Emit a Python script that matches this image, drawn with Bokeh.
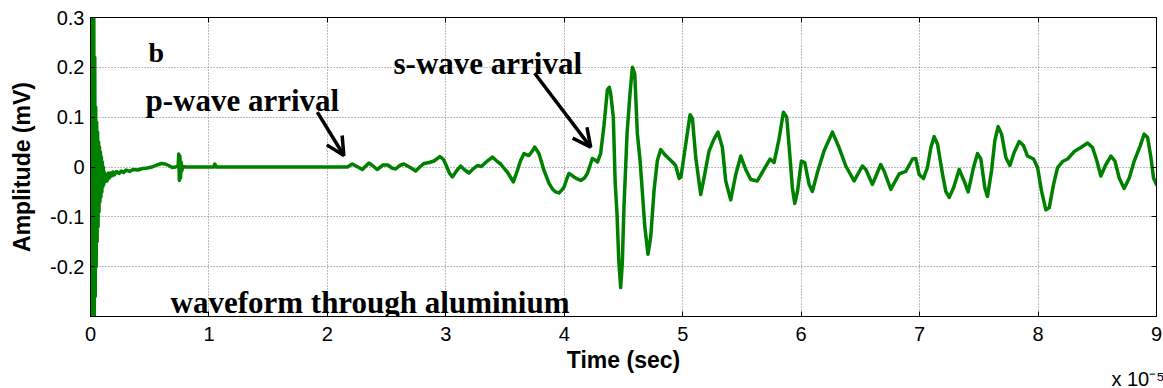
from bokeh.plotting import figure
from bokeh.models import Range1d, FixedTicker, LinearAxis, Label, Arrow, OpenHead, Title
from bokeh.embed import file_html
from bokeh.resources import INLINE

# time in units of 1e-5 s, amplitude in mV
time = [
    0.000, 0.004, 0.008, 0.012, 0.016, 0.020, 0.024, 0.028, 0.032, 0.036,
    0.040, 0.044, 0.048, 0.052, 0.056, 0.060, 0.064, 0.068, 0.072, 0.076,
    0.080, 0.084, 0.088, 0.092, 0.096, 0.100, 0.104, 0.108, 0.112, 0.116,
    0.120, 0.13, 0.14, 0.15, 0.16, 0.17, 0.18, 0.19, 0.20, 0.22,
    0.24, 0.26, 0.28, 0.30, 0.33, 0.36, 0.40, 0.44, 0.48, 0.52,
    0.56, 0.60, 0.63, 0.66, 0.69, 0.72, 0.74, 0.745, 0.75, 0.755,
    0.76, 0.765, 0.77, 0.78, 0.80, 1.04, 1.05, 1.06, 2.17, 2.21,
    2.25, 2.295, 2.35, 2.38, 2.42, 2.47, 2.51, 2.545, 2.576, 2.61,
    2.646, 2.70, 2.745, 2.78, 2.815, 2.86, 2.90, 2.95, 2.98, 3.00,
    3.03, 3.055, 3.09, 3.125, 3.16, 3.195, 3.23, 3.266, 3.30, 3.35,
    3.393, 3.43, 3.463, 3.50, 3.519, 3.55, 3.57, 3.604, 3.63, 3.66,
    3.70, 3.73, 3.75, 3.786, 3.81, 3.829, 3.871, 3.90, 3.927, 3.955,
    3.98, 3.998, 4.02, 4.04, 4.06, 4.082, 4.11, 4.139, 4.17, 4.195,
    4.22, 4.237, 4.26, 4.28, 4.307, 4.335, 4.364, 4.38, 4.392, 4.414,
    4.43, 4.445, 4.46, 4.476, 4.49, 4.504, 4.53, 4.555, 4.575, 4.595,
    4.617, 4.64, 4.66, 4.68, 4.707, 4.73, 4.758, 4.786, 4.814, 4.856,
    4.913, 4.94, 4.97, 4.985, 5.025, 5.062, 5.082, 5.11, 5.152, 5.18,
    5.222, 5.264, 5.298, 5.335, 5.363, 5.405, 5.448, 5.49, 5.532, 5.574,
    5.63, 5.686, 5.737, 5.771, 5.813, 5.85, 5.878, 5.906, 5.926, 5.946,
    5.969, 6.002, 6.03, 6.067, 6.095, 6.137, 6.193, 6.264, 6.32, 6.377,
    6.447, 6.517, 6.546, 6.602, 6.672, 6.70, 6.757, 6.827, 6.883, 6.94,
    6.968, 6.996, 7.033, 7.066, 7.095, 7.123, 7.151, 7.194, 7.221, 7.25,
    7.286, 7.334, 7.376, 7.41, 7.455, 7.489, 7.517, 7.551, 7.573, 7.607,
    7.635, 7.663, 7.692, 7.728, 7.762, 7.798, 7.841, 7.877, 7.911, 7.962,
    7.996, 8.03, 8.066, 8.094, 8.131, 8.165, 8.207, 8.249, 8.305, 8.361,
    8.418, 8.46, 8.497, 8.53, 8.573, 8.615, 8.649, 8.685, 8.727, 8.77,
    8.812, 8.863, 8.896, 8.925, 8.953, 8.975, 9.0,
]
amplitude = [
    0.000, 0.40, -0.40, 0.38, -0.38, 0.35, -0.36, 0.30, -0.33, 0.22,
    -0.26, 0.12, -0.20, 0.09, -0.15, 0.07, -0.12, 0.05, -0.09, 0.04,
    -0.07, 0.03, -0.06, 0.02, -0.05, 0.01, -0.04, 0.0, -0.035, -0.01,
    -0.03, -0.015, -0.028, -0.012, -0.022, -0.012, -0.018, -0.010, -0.016, -0.009,
    -0.013, -0.008, -0.011, -0.006, -0.009, -0.005, -0.006, -0.003, -0.002, 0.000,
    0.004, 0.007, 0.006, 0.003, -0.001, 0.000, 0.002, 0.026, -0.027, 0.022,
    -0.022, 0.010, -0.008, 0.001, 0.000, 0.000, 0.006, 0.000, 0.000, 0.006,
    0.001, -0.005, 0.008, 0.003, -0.005, 0.004, 0.004, -0.002, -0.004, 0.003,
    0.006, -0.001, -0.008, 0.000, 0.007, 0.009, 0.012, 0.021, 0.015, 0.005,
    -0.012, -0.020, -0.008, 0.002, -0.006, -0.012, -0.004, 0.003, 0.001, 0.012,
    0.020, 0.012, 0.006, -0.005, -0.010, -0.022, -0.030, -0.007, 0.012, 0.027,
    0.023, 0.032, 0.040, 0.027, 0.008, -0.007, -0.033, -0.044, -0.050, -0.052,
    -0.046, -0.040, -0.025, -0.013, -0.016, -0.020, -0.024, -0.027, -0.022, -0.013,
    0.005, 0.017, 0.014, 0.010, 0.027, 0.083, 0.155, 0.160, 0.147, 0.100,
    -0.033, -0.093, -0.187, -0.242, -0.193, -0.080, 0.067, 0.147, 0.200, 0.187,
    0.067, 0.013, -0.053, -0.120, -0.175, -0.140, -0.047, 0.013, 0.035, 0.023,
    0.010, 0.003, -0.023, -0.020, 0.045, 0.105, 0.097, 0.019, -0.055, -0.022,
    0.032, 0.056, 0.070, 0.039, -0.028, -0.066, -0.015, 0.022, -0.005, -0.025,
    -0.028, -0.005, 0.016, 0.009, 0.056, 0.110, 0.100, 0.019, -0.042, -0.073,
    -0.049, 0.012, 0.009, -0.035, -0.049, -0.011, 0.032, 0.070, 0.039, 0.002,
    -0.028, 0.002, -0.005, -0.035, 0.005, -0.008, -0.045, -0.014, -0.009, 0.016,
    0.017, -0.015, -0.023, -0.001, 0.039, 0.061, 0.046, -0.015, -0.049, -0.061,
    -0.042, -0.005, -0.028, -0.050, -0.001, 0.027, 0.016, -0.042, -0.059, -0.008,
    0.053, 0.081, 0.066, 0.019, 0.003, 0.029, 0.051, 0.043, 0.022, 0.016,
    -0.001, -0.049, -0.086, -0.082, -0.035, -0.001, 0.011, 0.016, 0.031, 0.039,
    0.048, 0.039, 0.012, -0.018, 0.005, 0.022, 0.012, -0.022, -0.043, -0.022,
    0.012, 0.043, 0.066, 0.059, 0.019, -0.022, -0.035,
]

x_ticks = [0, 1, 2, 3, 4, 5, 6, 7, 8, 9]
y_ticks = [-0.3, -0.2, -0.1, 0, 0.1, 0.2, 0.3]
y_tick_labels = {-0.3: "", -0.2: "-0.2", -0.1: "-0.1", 0: "0", 0.1: "0.1", 0.2: "0.2", 0.3: "0.3"}

# annotation arrows (start x, start y, end x, end y) in data units
p_arrow = [1.915, 0.110, 2.139, 0.023]
s_arrow = [3.75, 0.188, 4.223, 0.040]

SERIF = "Liberation Serif"
SANS = "Liberation Sans"

FRAME_LEFT, FRAME_BOTTOM = 90, 316

p = figure(width=1163, height=388, output_backend="svg", toolbar_location=None,
           x_range=Range1d(0, 9), y_range=Range1d(-0.3, 0.3),
           min_border_left=90, min_border_right=7, min_border_top=17, min_border_bottom=72)
p.outline_line_color = "black"
p.outline_line_width = 1
p.background_fill_color = "white"
p.border_fill_color = "white"

p.line(time, amplitude, line_color="#008000", line_width=3.5, line_join="round", line_cap="round")

for ax in p.xaxis:
    ax.ticker = FixedTicker(ticks=x_ticks)
    ax.major_tick_in = 5
    ax.major_tick_out = 0
    ax.minor_tick_in = 0
    ax.minor_tick_out = 0
    ax.major_label_text_font = SANS
    ax.major_label_text_font_size = "20px"
    ax.major_label_text_color = "black"
    ax.major_label_standoff = 10
    ax.axis_label = "Time (sec)"
    ax.axis_label_text_font = SANS
    ax.axis_label_text_font_style = "bold"
    ax.axis_label_text_font_size = "23px"
    ax.axis_label_text_color = "black"
    ax.axis_label_standoff = 3
    ax.axis_line_color = "black"

for ax in p.yaxis:
    ax.ticker = FixedTicker(ticks=y_ticks)
    ax.major_label_overrides = y_tick_labels
    ax.major_tick_in = 5
    ax.major_tick_out = 0
    ax.minor_tick_in = 0
    ax.minor_tick_out = 0
    ax.major_label_text_font = SANS
    ax.major_label_text_font_size = "20px"
    ax.major_label_text_color = "black"
    ax.major_label_standoff = 6
    ax.axis_label = "Amplitude (mV)"
    ax.axis_label_text_font = SANS
    ax.axis_label_text_font_style = "bold"
    ax.axis_label_text_font_size = "23px"
    ax.axis_label_text_color = "black"
    ax.axis_label_standoff = 12
    ax.axis_line_color = "black"

top_axis = LinearAxis(ticker=FixedTicker(ticks=x_ticks), major_tick_in=5, major_tick_out=0,
                      minor_tick_in=0, minor_tick_out=0, major_label_text_font_size="0px",
                      major_label_text_color=None, axis_line_color="black")
p.add_layout(top_axis, "above")
right_axis = LinearAxis(ticker=FixedTicker(ticks=y_ticks), major_tick_in=5, major_tick_out=0,
                        minor_tick_in=0, minor_tick_out=0, major_label_text_font_size="0px",
                        major_label_text_color=None, axis_line_color="black")
p.add_layout(right_axis, "right")

p.xgrid.ticker = FixedTicker(ticks=x_ticks)
p.ygrid.ticker = FixedTicker(ticks=y_ticks)
for g in (p.xgrid, p.ygrid):
    g.grid_line_color = "#7a7a7a"
    g.grid_line_dash = "1 2"
    g.grid_line_width = 1

def label(txt, x, y, size, font=SERIF, style="bold"):
    # x, y: page pixel position (left, baseline); converted to frame-relative screen units
    p.add_layout(Label(x=x - FRAME_LEFT, y=FRAME_BOTTOM - y, x_units="screen", y_units="screen",
                       text=txt, text_font=font, text_font_style=style, text_font_size=size,
                       text_color="black", text_baseline="alphabetic", text_align="left"))

label("b", 148, 52, "28px")
label("p-wave arrival", 145, 100, "31px")
label("s-wave arrival", 393, 63, "31px")
label("waveform through aluminium", 170, 302, "31px")

# exponent note below the axis, as a title in the bottom panel
p.add_layout(Title(text="x 10\u207b\u2075", align="right", offset=-8, standoff=-20,
                   text_font=SANS, text_font_style="normal", text_font_size="20px",
                   text_color="black"), "below")

for a in (p_arrow, s_arrow):
    p.add_layout(Arrow(x_start=a[0], y_start=a[1], x_end=a[2], y_end=a[3],
                       line_color="black", line_width=3.5,
                       end=OpenHead(size=18, line_width=3.5, line_color="black")))

open("out.html", "w").write(file_html(p, INLINE))
